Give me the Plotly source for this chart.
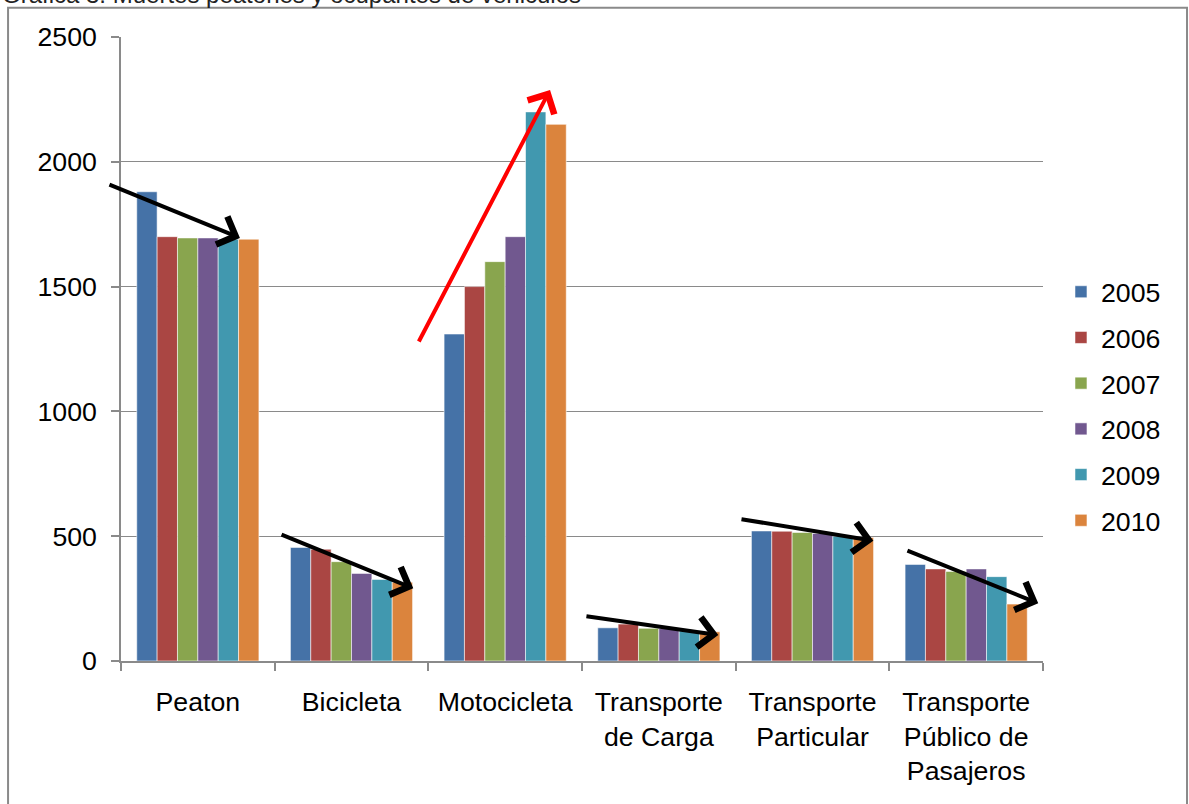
import plotly.graph_objects as go

# Categories of road users and yearly death counts
categories = ["Peaton", "Bicicleta", "Motocicleta", "Transporte<br>de Carga",
              "Transporte<br>Particular", "Transporte<br>Público de<br>Pasajeros"]
years = ["2005", "2006", "2007", "2008", "2009", "2010"]

deaths_2005 = [1880, 455, 1310, 133, 521, 387]
deaths_2006 = [1700, 448, 1500, 148, 520, 369]
deaths_2007 = [1695, 398, 1600, 131, 515, 359]
deaths_2008 = [1695, 351, 1700, 130, 511, 369]
deaths_2009 = [1690, 327, 2200, 121, 500, 338]
deaths_2010 = [1690, 316, 2150, 117, 495, 228]

series = [deaths_2005, deaths_2006, deaths_2007, deaths_2008, deaths_2009, deaths_2010]
colors = ["#4572A7", "#AA4643", "#89A54E", "#71588F", "#4198AF", "#DB843D"]

# Trend arrows: (x_start, y_start, x_end, y_end, colour), x in category index units
trend_arrows = [
    (-0.585, 1911, 0.274, 1695, "black"),
    (0.535, 509, 1.402, 291, "black"),
    (1.433, 1274, 2.292, 2288, "#FF0000"),
    (2.519, 180, 3.387, 104, "black"),
    (3.528, 569, 4.396, 482, "black"),
    (4.608, 445, 5.469, 231, "black"),
]

FONT = "Liberation Sans, Arial, sans-serif"
FS = 26.7

fig = go.Figure()
for i, (yr, vals) in enumerate(zip(years, series)):
    fig.add_trace(go.Bar(
        x=categories, y=vals, name=yr,
        marker=dict(color=colors[i], line=dict(color="rgba(255,255,255,0.55)", width=1)),
        legendgroup=yr,
    ))

annotations = []
for x0, y0, x1, y1, col in trend_arrows:
    annotations.append(dict(
        x=x1, y=y1, ax=x0, ay=y0,
        xref="x", yref="y", axref="x", ayref="y",
        text="", showarrow=True, arrowhead=4, arrowsize=1.45, arrowwidth=4,
        arrowcolor=col,
    ))

# chart caption along the top edge
annotations.append(dict(
    text="Grafica 3. Muertes peatones y ocupantes de vehiculos",
    xref="paper", yref="paper", x=-0.131, y=1.0435, xanchor="left", yanchor="bottom",
    showarrow=False, font=dict(family=FONT, size=24, color="#222222"),
))

fig.update_layout(
    width=1189, height=804, autosize=False,
    margin=dict(l=121, r=146, t=37, b=143),
    paper_bgcolor="white", plot_bgcolor="white",
    barmode="group", bargap=0.205, bargroupgap=0,
    font=dict(family=FONT, size=FS, color="black"),
    showlegend=True,
    legend=dict(
        x=1.0195, y=0.63, xanchor="left", yanchor="top",
        font=dict(family=FONT, size=FS, color="black"),
        tracegroupgap=8, itemwidth=30, bgcolor="rgba(0,0,0,0)",
    ),
    annotations=annotations,
    shapes=[dict(
        type="rect", xref="paper", yref="paper",
        x0=-0.1225, x1=1.1562, y0=-0.25, y1=1.047,
        line=dict(color="#8a8a8a", width=2), fillcolor="rgba(0,0,0,0)", layer="below",
    )],
)

fig.update_xaxes(
    type="category", range=[-0.5, 5.5], autorange=False,
    tickson="boundaries", ticks="outside", ticklen=8, tickwidth=1.5,
    tickcolor="#8a8a8a", showline=True, linecolor="#8a8a8a", linewidth=1.5,
    showgrid=False, ticklabelstandoff=16,
    tickfont=dict(family=FONT, size=FS, color="black"),
)
fig.update_yaxes(
    range=[0, 2500], dtick=500, ticks="outside", ticklen=8, tickwidth=1.5,
    tickcolor="#8a8a8a", showline=True, linecolor="#8a8a8a", linewidth=1.5,
    showgrid=True, gridcolor="#8a8a8a", gridwidth=1.3, zeroline=False,
    ticklabelstandoff=9,
    tickfont=dict(family=FONT, size=FS, color="black"),
)

fig.write_html("out.html")
